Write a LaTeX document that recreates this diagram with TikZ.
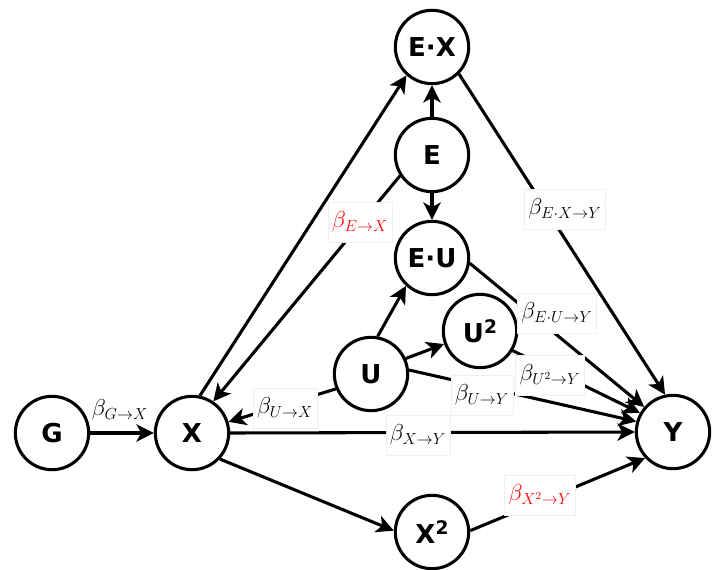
\documentclass[tikz,border=0pt]{standalone}
\usepackage{fontspec}
\usetikzlibrary{arrows.meta}
\newfontfamily\nodefont{DejaVu Sans}
\newcommand{\supsq}{\raisebox{0.36em}{\fontsize{14pt}{14pt}\selectfont 2}}
\begin{document}
\begin{tikzpicture}[x=0.75pt,y=-0.75pt,
  vnode/.style={circle,draw,fill=white,line width=2.3pt,minimum size=55pt,inner sep=0pt,
    font=\nodefont\bfseries\fontsize{19.5pt}{19.5pt}\selectfont},
  lbl/.style={fill=white,draw=gray!12,line width=0.4pt,inner xsep=3pt,minimum height=30pt,
    font=\fontsize{17pt}{17pt}\selectfont},
  plainlbl/.style={inner sep=1pt,font=\fontsize{17pt}{17pt}\selectfont},
  arr/.style={line width=2.3pt,-{Stealth[length=13pt,width=13pt,inset=3.5pt]}}]
\path[use as bounding box] (0,0) rectangle (713,570);
% nodes
\node[vnode] (G) at (52,433) {G};
\node[vnode] (X) at (192,433) {X};
\node[vnode] (Y) at (673,432) {Y};
\node[vnode] (X2) at (432,532) {X\supsq};
\node[vnode] (EX) at (432,47) {E·X};
\node[vnode] (E) at (432,155) {E};
\node[vnode] (EU) at (432,258) {E·U};
\node[vnode] (U) at (371,374) {U};
\node[vnode] (U2) at (480,331) {U\supsq};
% edges
\draw[arr] (G.0) -- (X.180);
\draw[arr] (X.78) -- (EX.228);
\draw[arr] (E.213) -- (X.56);
\draw[arr] (E.90) -- (EX.270);
\draw[arr] (E.270) -- (EU.90);
\draw[arr] (U.203) -- (X.17);
\draw[arr] (U.80) -- (EU.227);
\draw[arr] (U.24) -- (U2.200);
\draw[arr] (U.6) -- (Y.164);
\draw[arr] (X.0) -- (Y.180);
\draw[arr] (X.317) -- (X2.178);
\draw[arr] (X2.2) -- (Y.223);
\draw[arr] (EX.315) -- (Y.102);
\draw[arr] (EU.352) -- (Y.139);
\draw[arr] (U2.329) -- (Y.150);
% labels
\node[plainlbl] (lGX) at (120,410) {$\beta_{G\to X}$};
\node[lbl] (lEXY) at (565,209) {$\beta_{E\cdot X\to Y}$};
\node[lbl,text=red] (lEX) at (360,222) {$\beta_{E\to X}$};
\node[lbl] (lEUY) at (557,313) {$\beta_{E\cdot U\to Y}$};
\node[lbl] (lU2Y) at (550,375) {$\beta_{U^2\to Y}$};
\node[lbl] (lUY) at (482,395) {$\beta_{U\to Y}$};
\node[lbl] (lUX) at (285,408) {$\beta_{U\to X}$};
\node[lbl] (lXY) at (418,435) {$\beta_{X\to Y}$};
\node[lbl,text=red] (lX2Y) at (540,495) {$\beta_{X^2\to Y}$};
\end{tikzpicture}
\end{document}
